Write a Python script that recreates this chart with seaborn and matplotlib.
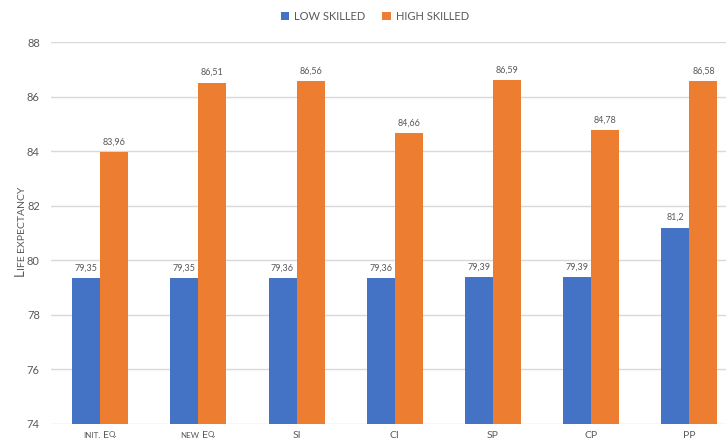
import matplotlib
matplotlib.use("Agg")
import matplotlib.pyplot as plt
import seaborn as sns
import pandas as pd

# ---- data -------------------------------------------------------------
scenarios = ["init. Eq.", "new Eq.", "SI", "CI", "SP", "CP", "PP"]
series_names = ["LOW SKILLED", "HIGH SKILLED"]
low_skilled = [79.35, 79.35, 79.36, 79.36, 79.39, 79.39, 81.2]
high_skilled = [83.96, 86.51, 86.56, 84.66, 86.59, 84.78, 86.58]
y_ticks = [74, 76, 78, 80, 82, 84, 86, 88]
y_label = "Life expectancy"

colors = ["#4472C4", "#ED7D31"]
text_color = "#595959"
grid_color = "#D9D9D9"
FONT = "Lato"

df = pd.DataFrame({
    "scenario": scenarios * 2,
    "series": [series_names[0]] * len(scenarios) + [series_names[1]] * len(scenarios),
    "value": low_skilled + high_skilled,
})

sns.set_theme(style="white")
plt.rcParams["font.family"] = [FONT, "DejaVu Sans"]

W, H, DPI = 726, 441, 100
fig = plt.figure(figsize=(W / DPI, H / DPI), dpi=DPI)
ax = fig.add_axes([50.9 / W, 17 / H, 687.7 / W, 382 / H])

sns.barplot(data=df, x="scenario", y="value", hue="series", order=scenarios,
            hue_order=series_names, palette=colors, width=0.57, saturation=1,
            linewidth=0, ax=ax, legend=True)

ax.set_ylim(y_ticks[0], y_ticks[-1])
ax.set_yticks(y_ticks)
ax.set_yticklabels([str(t) for t in y_ticks], fontsize=8, color=text_color)
ax.tick_params(axis="y", length=0, pad=8)
ax.tick_params(axis="x", length=0)
ax.set_xticklabels([])
ax.set_xlabel("")
ax.set_ylabel("")
ax.set_xlim(-0.5, len(scenarios) - 0.5)
for s in ax.spines.values():
    s.set_visible(False)
ax.yaxis.grid(True, color=grid_color, linewidth=1)
ax.set_axisbelow(True)

# value labels with decimal comma
for container, vals in zip(ax.containers, [low_skilled, high_skilled]):
    ax.bar_label(container, labels=[f"{v:g}".replace(".", ",") for v in vals],
                 padding=4, fontsize=6.5, color=text_color)

# legend across the top
handles, labels = ax.get_legend_handles_labels()
ax.get_legend().remove()
fig.legend(handles, labels, loc="center", bbox_to_anchor=(375 / W, 1 - 16 / H),
           ncol=2, frameon=False, fontsize=8, handlelength=0.75, handleheight=0.75,
           handletextpad=0.45, columnspacing=1.5, labelcolor=text_color)

# ---- small-caps text helper --------------------------------------------
renderer = fig.canvas.get_renderer()


def _width(s, size):
    t = fig.text(0, 0, s, fontsize=size, family=[FONT, "DejaVu Sans"])
    w = t.get_window_extent(renderer).width
    t.remove()
    return w


def small_caps(text, cx, cy, big, small, rotation=0):
    """Draw text in small caps, centred on (cx, cy) in pixels; cy is the baseline
    for horizontal text and cx the baseline for vertical text."""
    tokens = []
    prev = big
    for ch in text:
        if ch == " ":
            tokens.append((" ", prev))
            continue
        if ch.isalpha():
            size = big if ch.isupper() else small
        else:
            size = prev
        prev = size
        if tokens and tokens[-1][0] != " " and tokens[-1][1] == size:
            tokens[-1] = (tokens[-1][0] + ch.upper(), size)
        else:
            tokens.append((ch.upper(), size))
    widths = []
    for s, size in tokens:
        if s == " ":
            widths.append(_width("I I", small) - _width("II", small))
        else:
            widths.append(_width(s, size))
    total = sum(widths)
    pos = -total / 2
    for (s, size), w in zip(tokens, widths):
        if s != " ":
            if rotation == 0:
                x, y = cx + pos, cy
            else:
                x, y = cx, cy + pos
            fig.text(x / W, y / H, s, fontsize=size, color=text_color,
                     family=[FONT, "DejaVu Sans"], ha="left", va="baseline",
                     rotation=rotation, rotation_mode="anchor")
        pos += w


# category labels under the bars
for i, name in enumerate(scenarios):
    px = ax.transData.transform((i, y_ticks[0]))[0]
    small_caps(name, px, 3.5, 7.5, 5.8)

# vertical axis title
small_caps(y_label, 24, H - 231, 9.5, 7.5, rotation=90)

fig.savefig("out.png", dpi=DPI)
